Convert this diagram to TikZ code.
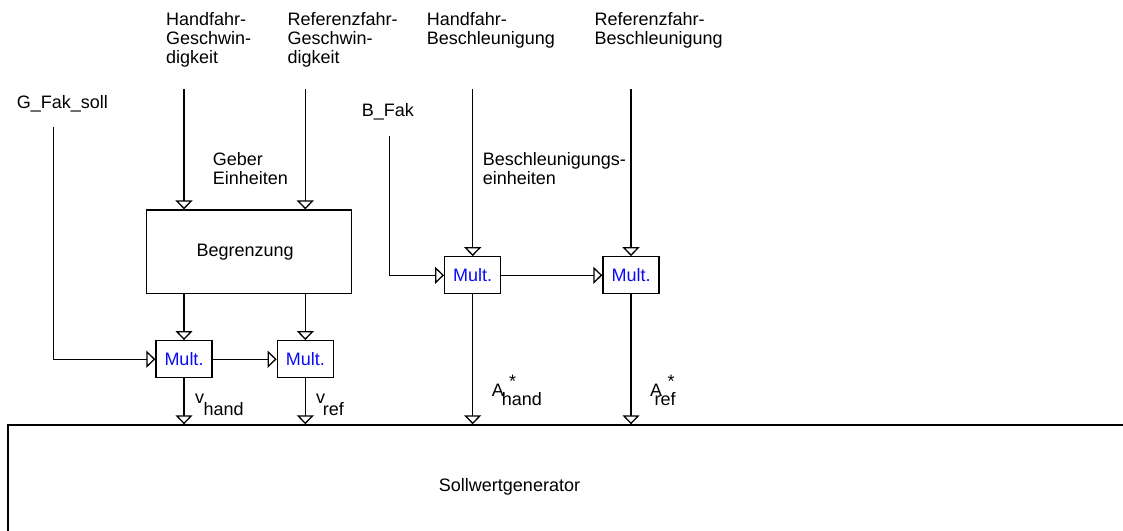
\documentclass[tikz,border=0pt]{standalone}
\usepackage{fontspec}
\setmainfont{Liberation Sans}
\usetikzlibrary{arrows.meta}
\definecolor{multblue}{RGB}{10,10,245}

\begin{document}
\begin{tikzpicture}[x=1pt,y=-1pt,
  every node/.style={font=\fontsize{18}{19}\selectfont},
  lbl/.style={inner sep=0pt, anchor=base west, align=left},
  blk/.style={draw, line width=1.3pt, inner sep=0pt},
  mult/.style={blk, minimum width=56pt, minimum height=37pt, text=multblue},
  sig/.style={line width=1.3pt,
    -{Triangle[length=9pt,width=17pt,fill=white,line width=1.3pt]}}]

\useasboundingbox (0,0) rectangle (1123,530);
\clip (0,0) rectangle (1123,530);

% input labels (anchored at the baseline of their last line)
\node[lbl] (hgtxt) at (166,63) {Handfahr-\\Geschwin-\\digkeit};
\node[lbl] (rgtxt) at (287.3,63) {Referenzfahr-\\Geschwin-\\digkeit};
\node[lbl] (hbtxt) at (426.7,44) {Handfahr-\\Beschleunigung};
\node[lbl] (rbtxt) at (594.3,44) {Referenzfahr-\\Beschleunigung};
\node[lbl] (gftxt) at (16.7,108.3) {G\_Fak\_soll};
\node[lbl] (bftxt) at (361.7,116.5) {B\_Fak};
\node[lbl] (getxt) at (212.7,184) {Geber\\Einheiten};
\node[lbl] (betxt) at (482.7,184) {Beschleunigungs-\\einheiten};

% blocks
\node[blk, minimum width=205pt, minimum height=83.3pt] (begr) at (249.2,251.7) {Begrenzung\hspace*{8pt}};
\node[mult] (m1) at (184,359.2) {Mult.};
\node[mult] (m2) at (305.3,359.2) {Mult.};
\node[mult] (m3) at (472.7,275.3) {Mult.};
\node[mult] (m4) at (631,275.3) {Mult.};
\node[blk, anchor=north west, minimum width=1200pt, minimum height=200pt] (soll) at (7.3,424.3) {};
\node (solltxt) at (509.5,487) {Sollwertgenerator};

% signal sources
\coordinate (hg) at (184,89);
\coordinate (rg) at (305.3,89);
\coordinate (hb) at (472.7,89);
\coordinate (rb) at (631,89);
\coordinate (gf) at (53.7,126.7);
\coordinate (bf) at (389.3,135.7);

% speed path
\draw[sig] (hg) -- (hg |- begr.north);
\draw[sig] (rg) -- (rg |- begr.north);
\draw[sig] (hg |- begr.south) -- (m1);
\draw[sig] (rg |- begr.south) -- (m2);
\draw[sig] (gf) |- (m1.west);
\draw[sig] (m1) -- (m2);
\draw[sig] (m1.south) -- (m1.south |- soll.north);
\draw[sig] (m2.south) -- (m2.south |- soll.north);

% acceleration path
\draw[sig] (hb) -- (m3);
\draw[sig] (rb) -- (m4);
\draw[sig] (bf) |- (m3.west);
\draw[sig] (m3) -- (m4);
\draw[sig] (m3.south) -- (m3.south |- soll.north);
\draw[sig] (m4.south) -- (m4.south |- soll.north);

% output signal names
\node[lbl] (vh) at (195,403.3) {v};
\node[lbl] (vhs) at (203.3,415) {hand};
\node[lbl] (vr) at (316,403.3) {v};
\node[lbl] (vrs) at (322.7,415) {ref};
\node[lbl] (ah) at (491.7,396.7) {A};
\node[lbl] (ahs) at (501.7,405.7) {hand};
\node[lbl] (ahx) at (509,387) {*};
\node[lbl] (ar) at (650,396.7) {A};
\node[lbl] (ars) at (654.3,405.7) {ref};
\node[lbl] (arx) at (667.5,387) {*};
\end{tikzpicture}
\end{document}
